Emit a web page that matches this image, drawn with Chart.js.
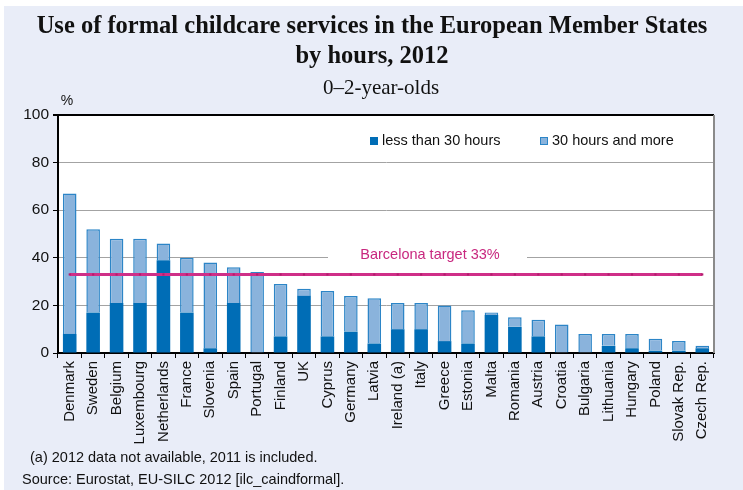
<!DOCTYPE html>
<html>
<head>
<meta charset="utf-8">
<script src="https://cdn.jsdelivr.net/npm/chart.js@4.4.0/dist/chart.umd.min.js"></script>
<style>
    body { margin: 0; background: #fff; }
    #bg { position: absolute; left: 4px; top: 6px; width: 739px; height: 484px; background: #e9edf8; }
    #wrap { position: absolute; left: 0; top: 0; width: 743px; height: 490px; }
</style>
</head>
<body>
<div id="bg"></div>
<div id="wrap"><canvas id="chart" width="743" height="490"></canvas></div>
<script>
const countries = ['Denmark', 'Sweden', 'Belgium', 'Luxembourg', 'Netherlands', 'France', 'Slovenia', 'Spain',
    'Portugal', 'Finland', 'UK', 'Cyprus', 'Germany', 'Latvia', 'Ireland (a)', 'Italy', 'Greece', 'Estonia',
    'Malta', 'Romania', 'Austria', 'Croatia', 'Bulgaria', 'Lithuania', 'Hungary', 'Poland', 'Slovak Rep.', 'Czech Rep.'];
const under30 = [8, 17, 21, 21, 39, 17, 2, 21, 0, 7, 24, 7, 9, 4, 10, 10, 5, 4, 16, 11, 7, 0, 0, 3, 2, 1, 1, 2];
const total = [67, 52, 48, 48, 46, 40, 38, 36, 34, 29, 27, 26, 24, 23, 21, 21, 20, 18, 17, 15, 14, 12, 8, 8, 8, 6, 5, 3];
const over30 = total.map((t, i) => t - under30[i]);
const target = countries.map(() => 33);
const yTicks = [0, 20, 40, 60, 80, 100];

const darkBlue = '#006db6';
const lightBlue = '#8ab3dc';
const lightEdge = '#2c85c7';
const magenta = '#cf2f88';
const sans = '"Liberation Sans", Arial, sans-serif';
const serif = '"Liberation Serif", "Times New Roman", serif';

const decor = {
    id: 'decor',
    beforeDraw(chart) {
        const { ctx, chartArea } = chart;
        ctx.save();
        ctx.fillStyle = '#fff';
        ctx.fillRect(chartArea.left, chartArea.top, chartArea.right - chartArea.left, chartArea.bottom - chartArea.top);
        ctx.restore();
    },
    beforeDatasetsDraw(chart) {
        const { ctx, chartArea, scales } = chart;
        // white box behind the target label cuts the 40 gridline
        const y40 = scales.y.getPixelForValue(40);
        ctx.save();
        ctx.fillStyle = '#fff';
        ctx.fillRect(328, y40 - 3, 199, 6);
        ctx.fillStyle = '#c8287f';
        ctx.font = '14.5px ' + sans;
        ctx.textAlign = 'center';
        ctx.textBaseline = 'middle';
        ctx.fillText('Barcelona target 33%', 430, 255);
        // right frame
        ctx.strokeStyle = '#8a8a8a';
        ctx.lineWidth = 2;
        ctx.beginPath();
        ctx.moveTo(chartArea.right, chartArea.top);
        ctx.lineTo(chartArea.right, chartArea.bottom);
        ctx.stroke();
        ctx.restore();
    },
    afterDraw(chart) {
        const { ctx } = chart;
        ctx.save();
        ctx.fillStyle = '#111';
        ctx.textAlign = 'center';
        ctx.textBaseline = 'middle';
        ctx.font = 'bold 24.5px ' + serif;
        ctx.fillText('Use of formal childcare services in the European Member States', 372, 27);
        ctx.fillText('by hours, 2012', 372, 57);
        ctx.font = '21px ' + serif;
        ctx.fillText('0\u20132-year-olds', 381, 88);
        ctx.font = '14px ' + sans;
        ctx.fillText('%', 67, 101);

        // legend
        ctx.font = '14.5px ' + sans;
        ctx.textAlign = 'left';
        ctx.fillStyle = darkBlue;
        ctx.fillRect(370, 137, 8, 8);
        ctx.fillStyle = lightBlue;
        ctx.fillRect(540, 137, 8, 8);
        ctx.strokeStyle = lightEdge;
        ctx.lineWidth = 1;
        ctx.strokeRect(540.5, 137.5, 7, 7);
        ctx.fillStyle = '#111';
        ctx.fillText('less than 30 hours', 382, 141);
        ctx.fillText('30 hours and more', 552, 141);

        // notes
        ctx.font = '14.5px ' + sans;
        ctx.fillText('(a) 2012 data not available, 2011 is included.', 30, 458);
        ctx.fillText('Source: Eurostat, EU-SILC 2012 [ilc_caindformal].', 22, 480);
        ctx.restore();
    }
};

new Chart(document.getElementById('chart'), {
    type: 'bar',
    data: {
        labels: countries,
        datasets: [
            {
                type: 'line',
                label: 'Barcelona target 33%',
                data: target,
                stack: 'target',
                borderColor: magenta,
                borderWidth: 3,
                pointStyle: 'rect',
                pointRadius: 1.5,
                pointBackgroundColor: '#b31d6d',
                pointBorderWidth: 0,
                order: 0
            },
            {
                label: 'less than 30 hours',
                data: under30,
                stack: 'bars',
                backgroundColor: darkBlue,
                borderWidth: 0,
                order: 1
            },
            {
                label: '30 hours and more',
                data: over30,
                stack: 'bars',
                backgroundColor: lightBlue,
                borderColor: lightEdge,
                borderWidth: 1.5,
                order: 1
            }
        ]
    },
    options: {
        responsive: false,
        animation: false,
        layout: { padding: { left: 0, right: 29, top: 115, bottom: 0 } },
        plugins: {
            legend: { display: false },
            tooltip: { enabled: false }
        },
        datasets: {
            bar: { categoryPercentage: 1, barPercentage: 0.58 }
        },
        scales: {
            x: {
                stacked: true,
                afterFit: scale => { scale.height = 137; },
                border: { color: '#000', width: 2 },
                grid: { drawOnChartArea: false, tickLength: 5, tickColor: '#000' },
                ticks: {
                    minRotation: 90, maxRotation: 90, padding: 3, autoSkip: false,
                    color: '#111',
                    font: { family: sans, size: 15 }
                }
            },
            y: {
                stacked: true,
                min: 0, max: 100,
                afterFit: scale => { scale.width = 58; },
                afterBuildTicks: scale => { scale.ticks = yTicks.map(v => ({ value: v })); },
                border: { color: '#000', width: 2 },
                grid: {
                    color: ctx => ctx.tick && ctx.tick.value === 100 ? '#000' : '#a3a3a3',
                    lineWidth: ctx => ctx.tick && ctx.tick.value === 100 ? 2 : 1,
                    tickLength: 5,
                    tickColor: '#000'
                },
                ticks: {
                    padding: 4,
                    color: '#111',
                    font: { family: sans, size: 15.5 }
                }
            }
        }
    },
    plugins: [decor]
});
</script>
</body>
</html>
